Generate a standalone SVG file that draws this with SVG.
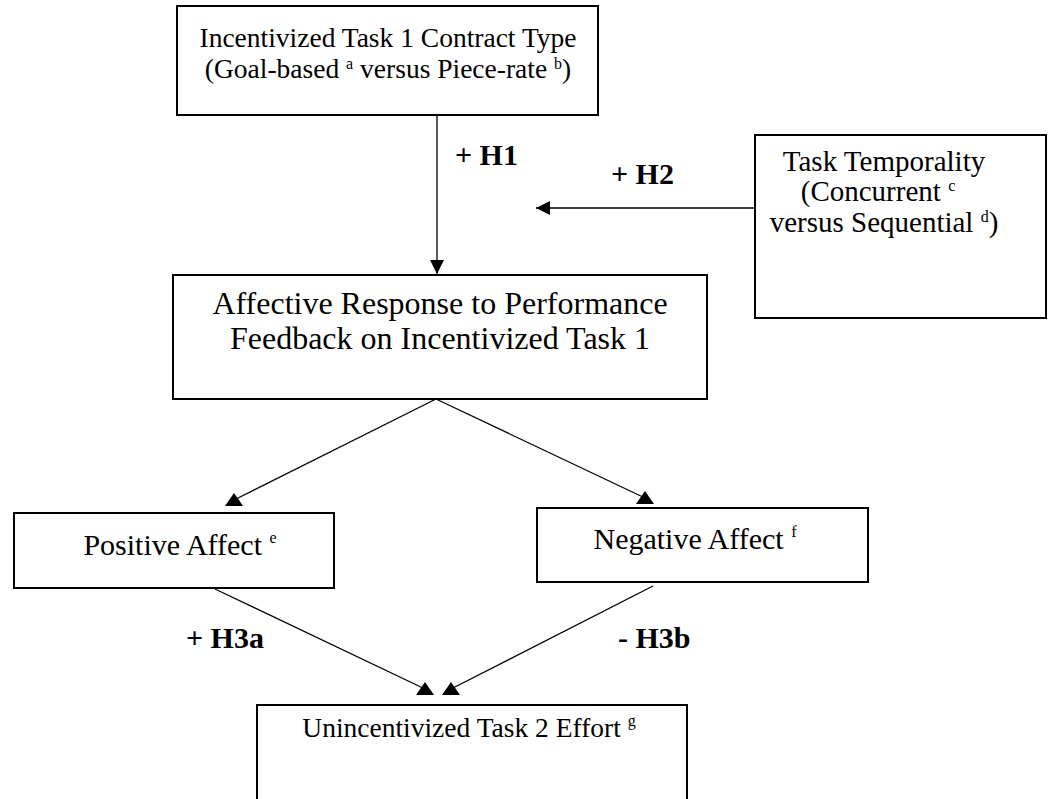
<svg xmlns="http://www.w3.org/2000/svg" width="1048" height="799" viewBox="0 0 1048 799">
<style>
.box{fill:#fff;stroke:#000;stroke-width:2}
.t{font-family:"Liberation Serif","Times New Roman",serif;font-size:30px;fill:#000;text-anchor:middle}
.sm{font-size:27.5px}
.md{font-size:29px}
.big{font-size:32px}
.sup{font-size:16px}
.lbl{font-family:"Liberation Serif","Times New Roman",serif;font-size:30px;font-weight:bold;fill:#000}
.ln{stroke:#000;stroke-width:1.3;fill:none}
</style>
<defs>
<marker id="ah" viewBox="0 0 14 14" refX="14" refY="7" markerWidth="14" markerHeight="14" markerUnits="userSpaceOnUse" orient="auto">
<path d="M0,0 L14,7 L0,14 Z" fill="#000"/>
</marker>
<marker id="up" viewBox="0 0 18 13" refX="9" refY="7" markerWidth="18" markerHeight="13" markerUnits="userSpaceOnUse" orient="0">
<path d="M9,0 L18,13 L0,13 Z" fill="#000"/>
</marker>
</defs>
<rect width="1048" height="799" fill="#fff"/>
<g id="connectors">
<line class="ln" x1="437" y1="115" x2="437" y2="274" marker-end="url(#ah)"/>
<line class="ln" x1="755" y1="208" x2="536" y2="208" marker-end="url(#ah)"/>
<line class="ln" x1="436" y1="399" x2="234" y2="500" marker-end="url(#up)"/>
<line class="ln" x1="436" y1="399" x2="645" y2="498" marker-end="url(#up)"/>
<line class="ln" x1="215" y1="589" x2="425" y2="689" marker-end="url(#up)"/>
<line class="ln" x1="653" y1="586" x2="451" y2="689" marker-end="url(#up)"/>
<text class="lbl" x="455" y="165">+ H1</text>
<text class="lbl" x="611" y="184">+ H2</text>
<text class="lbl" x="186" y="648">+ H3a</text>
<text class="lbl" x="618" y="648">- H3b</text>
</g>
<g id="n1">
<rect class="box" x="177" y="6" width="421" height="109"/>
<text class="t sm" x="388" y="47">Incentivized Task 1 Contract Type</text>
<text class="t sm" x="388" y="78">(Goal-based <tspan class="sup" dy="-9">a</tspan><tspan dy="9"> versus Piece-rate </tspan><tspan class="sup" dy="-9">b</tspan><tspan dy="9">)</tspan></text>
</g>
<g id="n2">
<rect class="box" x="755" y="135" width="291" height="183"/>
<text class="t md" x="884" y="171">Task Temporality</text>
<text class="t md" x="878" y="201">(Concurrent <tspan class="sup" dy="-10">c</tspan></text>
<text class="t md" x="884" y="232">versus Sequential <tspan class="sup" dy="-10">d</tspan><tspan dy="10">)</tspan></text>
</g>
<g id="n3">
<rect class="box" x="173" y="275" width="534" height="124"/>
<text class="t big" x="440" y="314">Affective Response to Performance</text>
<text class="t big" x="440" y="349">Feedback on Incentivized Task 1</text>
</g>
<g id="n4">
<rect class="box" x="14" y="513" width="320" height="75"/>
<text class="t" x="180" y="555">Positive Affect <tspan class="sup" dy="-12">e</tspan></text>
</g>
<g id="n5">
<rect class="box" x="537" y="508" width="331" height="74"/>
<text class="t" x="695" y="549">Negative Affect <tspan class="sup" dy="-12">f</tspan></text>
</g>
<g id="n6">
<rect class="box" x="257" y="705" width="430" height="110"/>
<text class="t sm" x="469" y="737">Unincentivized Task 2 Effort <tspan class="sup" dy="-11">g</tspan></text>
</g>
</svg>
